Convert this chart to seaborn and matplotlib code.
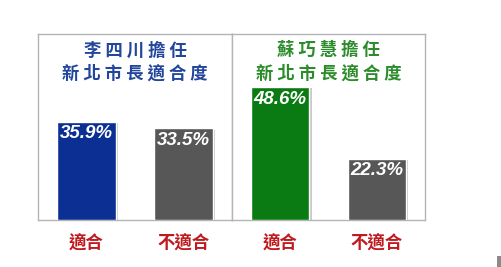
import matplotlib
matplotlib.use("Agg")
import matplotlib.pyplot as plt
import matplotlib.patheffects as pe
from matplotlib.patches import Rectangle
import seaborn as sns
import pandas as pd

categories = ["適合", "不適合"]
li_values = [35.9, 33.5]
su_values = [48.6, 22.3]
li_title = ["李 四 川 擔 任", "新 北 市 長 適 合 度"]
su_title = ["蘇 巧 慧 擔 任", "新 北 市 長 適 合 度"]
value_labels_li = ["35.9%", "33.5%"]
value_labels_su = ["48.6%", "22.3%"]

sns.set_theme(style="white")
plt.rcParams["font.family"] = ["Noto Sans CJK TC", "DejaVu Sans"]

W, H = 502, 267
fig = plt.figure(figsize=(W / 100, H / 100), dpi=100)
fig.patch.set_facecolor("white")

def ax_rect(x0, x1, y0, y1):
    return [x0 / W, (H - y1) / H, (x1 - x0) / W, (y1 - y0) / H]

ax1 = fig.add_axes(ax_rect(38, 232, 34, 220))
ax2 = fig.add_axes(ax_rect(232, 425, 34, 220))

panels = [
    (ax1, li_values, value_labels_li, ["#0b2f93", "#575757"], li_title, "#21469c"),
    (ax2, su_values, value_labels_su, ["#0a7a12", "#575757"], su_title, "#2c8c2c"),
]

shadow = [pe.SimplePatchShadow(offset=(2, -1), shadow_rgbFace="#888888", alpha=0.45), pe.Normal()]

for ax, vals, vlabels, colors, title, tcolor in panels:
    df = pd.DataFrame({"cat": categories, "val": vals})
    sns.barplot(data=df, x="cat", y="val", hue="cat", palette=colors,
                legend=False, width=0.6, saturation=1, ax=ax, zorder=3)
    for p in ax.patches:
        p.set_path_effects(shadow)
    ax.set_xlim(-0.5, 1.5)
    ax.set_ylim(0, 68)
    ax.set_xlabel("")
    ax.set_ylabel("")
    ax.set_yticks([])
    ax.set_xticks([])
    for s in ax.spines.values():
        s.set_visible(True)
        s.set_color("#b4b4b4")
        s.set_linewidth(1.0)
    ax.set_facecolor("white")
    for i, (v, lab) in enumerate(zip(vals, vlabels)):
        ax.annotate(lab, (i, v), xytext=(0, -2.5), textcoords="offset points",
                    ha="center", va="top", color="white", fontsize=13.5,
                    fontweight="bold", fontstyle="italic",
                    family=["Liberation Sans", "DejaVu Sans"], zorder=5)
    ax.text(0.5, 0.912, title[0], transform=ax.transAxes, ha="center", va="center",
            fontsize=12.5, fontweight="bold", color=tcolor)
    ax.text(0.5, 0.789, title[1], transform=ax.transAxes, ha="center", va="center",
            fontsize=12.5, fontweight="bold", color=tcolor)
    for i, c in enumerate(categories):
        ax.annotate(c, (i, 0), xytext=(0, -23), textcoords="offset pixels",
                    ha="center", va="center", fontsize=12.5, fontweight="bold",
                    color="#bf1b1f", annotation_clip=False)

fig.patches.append(Rectangle((497 / W, 0), 5 / W, 11 / H, transform=fig.transFigure,
                             facecolor="#8a8a8a", edgecolor="none"))

fig.savefig("out.png", dpi=100)
